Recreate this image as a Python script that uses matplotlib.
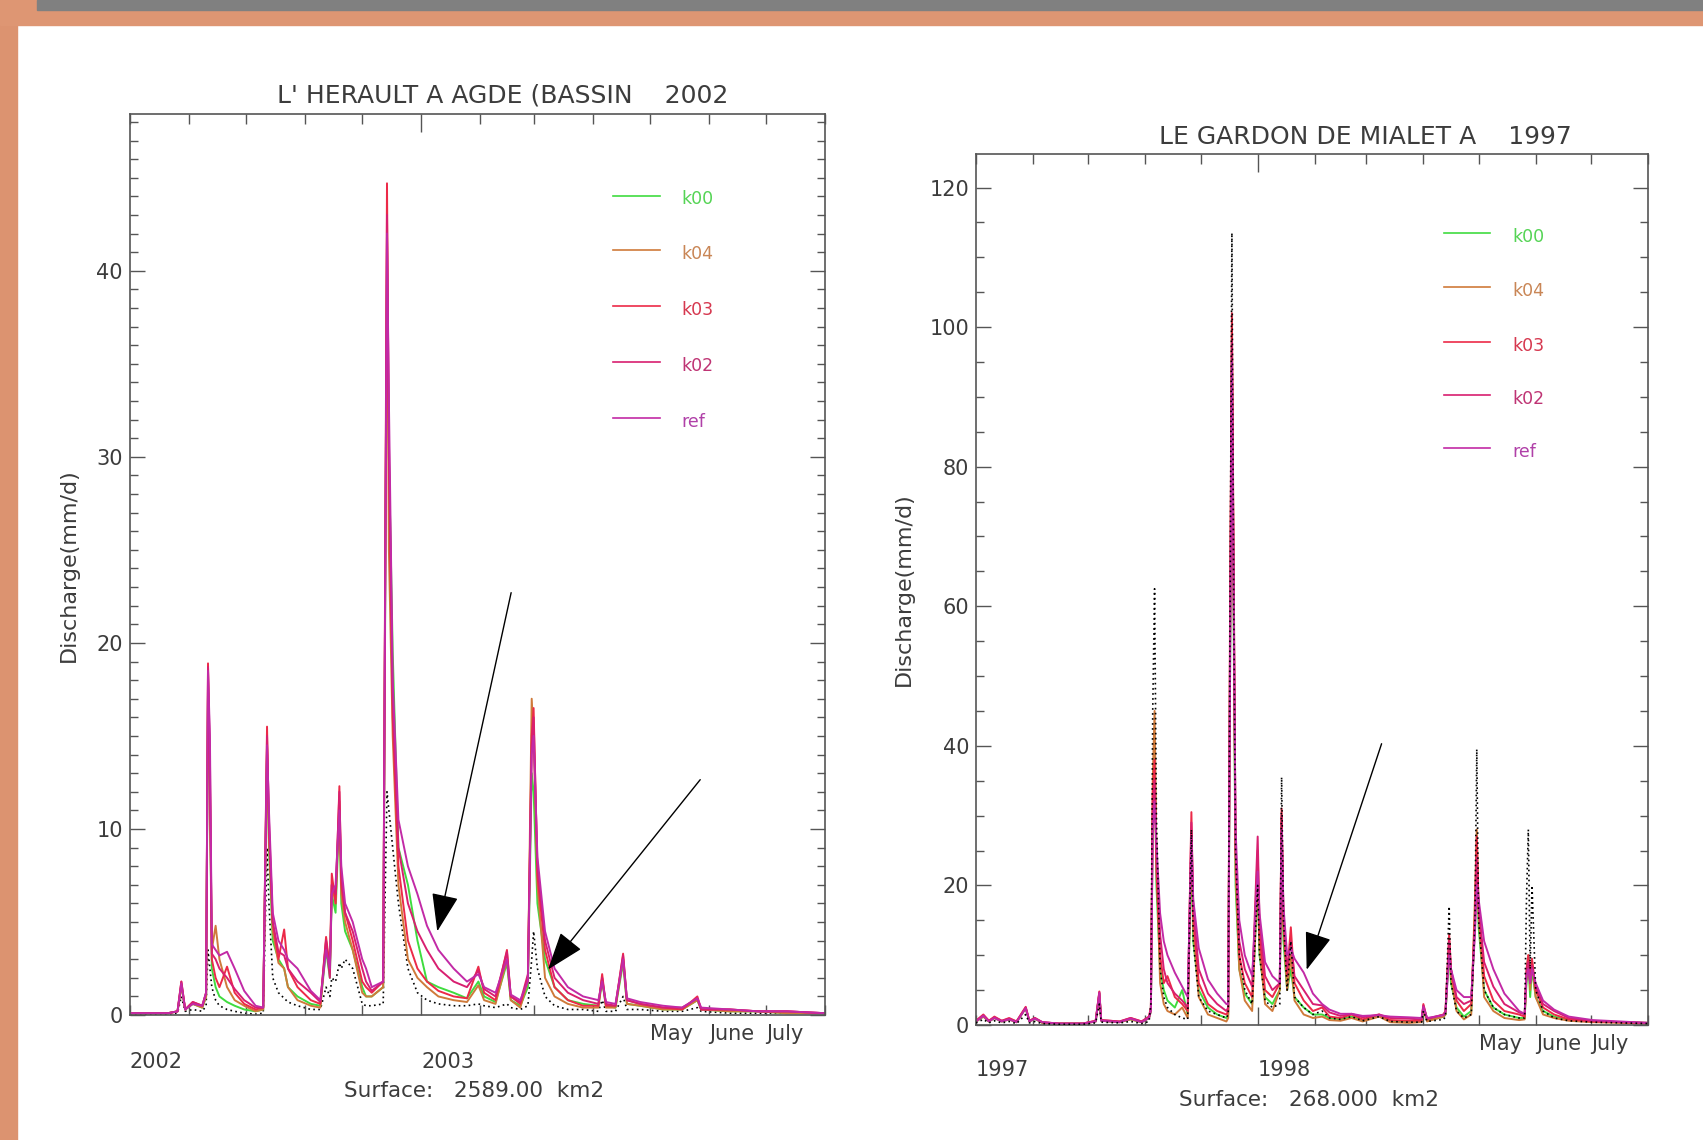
import numpy as np
import matplotlib.pyplot as plt
from matplotlib.patches import Rectangle
from matplotlib.ticker import MultipleLocator
from matplotlib.transforms import blended_transform_factory

# ---------------- data (days counted from 1 August) ----------------
month_starts = [0, 31, 61, 92, 122, 153, 184, 212, 243, 273, 304, 334, 365]

# L'Herault a Agde, 2002-2003
left_days = [0, 10, 20, 25, 27, 29, 33, 38, 40, 41,
             42, 43, 45, 47, 51, 55, 60, 66, 70, 72,
             73, 75, 78, 81, 83, 88, 95, 100, 103, 105,
             106, 108, 110, 111, 113, 117, 122, 124, 127, 133,
             135, 136, 138, 141, 146, 151, 156, 162, 170, 177,
             183, 186, 192, 198, 200, 205, 209, 211, 212, 214,
             218, 223, 230, 238, 246, 248, 250, 255, 259, 261,
             268, 280, 290, 298, 300, 315, 330, 345, 365]
left_obs = [0.05, 0.05, 0.05, 0.1, 1.0, 0.2, 0.3, 0.2, 0.5, 3.5,
            2.5, 1.5, 0.8, 0.5, 0.3, 0.2, 0.1, 0.05, 0.1, 9.0,
            6.0, 2.0, 1.2, 0.9, 0.7, 0.5, 0.3, 0.3, 1.5, 1.0,
            2.0, 1.8, 2.8, 2.5, 3.0, 2.5, 0.6, 0.5, 0.5, 0.6,
            12.0, 11.0, 9.0, 6.0, 2.5, 1.2, 0.8, 0.6, 0.5, 0.5,
            0.6, 0.5, 0.4, 0.6, 0.4, 0.3, 0.5, 3.0, 4.5, 2.5,
            1.0, 0.5, 0.3, 0.3, 0.2, 0.8, 0.2, 0.2, 1.0, 0.3,
            0.3, 0.2, 0.2, 0.4, 0.2, 0.1, 0.1, 0.1, 0.1]
left_k00 = [0.1, 0.1, 0.1, 0.2, 1.6, 0.3, 0.6, 0.4, 1.0, 17.5,
            12.0, 2.5, 1.5, 1.0, 0.7, 0.5, 0.3, 0.2, 0.3, 14.0,
            9.0, 4.0, 3.0, 2.5, 1.5, 1.0, 0.6, 0.5, 3.5, 2.0,
            6.5, 5.5, 11.0, 6.0, 4.5, 3.5, 1.5, 1.0, 1.0, 1.5,
            40.0, 30.0, 19.5, 9.0, 7.0, 4.0, 1.8, 1.5, 1.2, 0.9,
            1.8, 1.0, 0.7, 2.8, 0.8, 0.5, 1.5, 13.0, 12.0, 6.0,
            3.0, 1.5, 0.8, 0.6, 0.5, 1.8, 0.5, 0.4, 2.8, 0.6,
            0.5, 0.3, 0.3, 0.8, 0.3, 0.2, 0.2, 0.1, 0.1]
left_k04 = [0.1, 0.1, 0.1, 0.2, 1.6, 0.3, 0.6, 0.4, 1.0, 18.0,
            12.5, 3.5, 4.8, 3.0, 1.5, 0.8, 0.5, 0.2, 0.3, 14.5,
            9.5, 4.5, 2.8, 2.5, 1.5, 0.8, 0.5, 0.4, 4.0, 2.5,
            7.0, 6.0, 11.5, 6.5, 5.0, 3.5, 1.2, 1.0, 1.0, 1.5,
            42.0, 25.0, 15.0, 7.0, 3.0, 2.0, 1.5, 1.0, 0.8, 0.7,
            1.6, 0.8, 0.6, 3.0, 0.8, 0.4, 1.8, 17.0, 15.0, 7.0,
            2.0, 1.0, 0.6, 0.4, 0.4, 2.0, 0.4, 0.4, 3.0, 0.6,
            0.5, 0.3, 0.3, 0.8, 0.3, 0.2, 0.2, 0.1, 0.1]
left_k03 = [0.1, 0.1, 0.1, 0.2, 1.8, 0.3, 0.7, 0.5, 1.2, 18.9,
            13.0, 3.0, 2.0, 1.5, 2.6, 1.2, 0.6, 0.3, 0.4, 15.5,
            10.0, 5.0, 3.0, 4.6, 2.5, 1.5, 0.8, 0.6, 4.2, 2.5,
            7.6, 6.0, 12.3, 7.0, 5.5, 4.0, 1.8, 1.5, 1.2, 1.8,
            44.7, 30.0, 16.0, 8.0, 4.0, 2.5, 1.8, 1.3, 1.0, 0.9,
            2.6, 1.2, 0.8, 3.5, 1.0, 0.6, 2.0, 15.0, 16.5, 7.5,
            3.5, 1.5, 0.8, 0.5, 0.5, 2.2, 0.5, 0.5, 3.3, 0.8,
            0.6, 0.4, 0.3, 1.0, 0.3, 0.3, 0.2, 0.2, 0.1]
left_k02 = [0.1, 0.1, 0.1, 0.2, 1.8, 0.3, 0.7, 0.5, 1.2, 18.7,
            14.0, 3.3, 3.0, 2.5, 2.0, 1.4, 0.8, 0.4, 0.4, 15.0,
            10.5, 5.0, 3.4, 3.2, 2.5, 1.8, 1.2, 0.7, 4.0, 2.0,
            7.0, 6.5, 12.0, 7.5, 5.5, 4.5, 2.5, 1.8, 1.3, 1.8,
            43.0, 31.0, 17.0, 9.0, 6.0, 4.5, 3.5, 2.5, 1.8, 1.5,
            2.4, 1.4, 1.0, 3.4, 1.0, 0.7, 2.2, 14.5, 16.0, 8.0,
            4.0, 2.0, 1.2, 0.8, 0.6, 2.0, 0.6, 0.5, 3.2, 0.8,
            0.6, 0.4, 0.4, 0.9, 0.3, 0.3, 0.2, 0.2, 0.1]
left_ref = [0.1, 0.1, 0.1, 0.2, 1.7, 0.3, 0.6, 0.5, 1.2, 18.5,
            15.0, 3.8, 3.5, 3.2, 3.4, 2.5, 1.3, 0.5, 0.4, 14.5,
            11.0, 5.5, 4.0, 3.5, 3.0, 2.5, 1.3, 0.8, 3.5, 2.5,
            6.5, 7.0, 11.0, 8.0, 6.0, 5.0, 3.0, 2.5, 1.5, 1.8,
            42.0, 33.0, 18.0, 10.5, 8.0, 6.5, 4.8, 3.5, 2.5, 1.8,
            2.2, 1.5, 1.2, 3.0, 1.1, 0.8, 1.8, 14.0, 15.0, 8.5,
            4.5, 2.5, 1.5, 1.0, 0.8, 1.8, 0.7, 0.6, 3.0, 0.9,
            0.7, 0.5, 0.4, 0.9, 0.4, 0.3, 0.2, 0.2, 0.1]

# Le Gardon de Mialet, 1997-1998
right_days = [0, 4, 7, 10, 14, 18, 22, 27, 29, 32,
              36, 45, 58, 65, 67, 68, 78, 84, 90, 94,
              95, 96, 97, 98, 100, 102, 104, 108, 112, 115,
              117, 118, 121, 126, 131, 136, 137, 138, 139, 140,
              141, 143, 146, 150, 153, 154, 157, 161, 165, 166,
              167, 169, 171, 173, 178, 183, 188, 192, 198, 204,
              210, 219, 225, 235, 242, 243, 245, 254, 255, 257,
              258, 261, 265, 269, 271, 272, 273, 276, 281, 287,
              295, 298, 299, 300, 301, 302, 304, 308, 314, 322,
              335, 350, 365]
right_obs = [0.3, 0.8, 0.3, 0.6, 0.3, 0.5, 0.2, 1.5, 0.3, 0.5,
             0.2, 0.1, 0.1, 0.3, 3.0, 0.4, 0.3, 0.5, 0.2, 0.5,
             3.0, 45.0, 62.5, 30.0, 8.0, 4.0, 2.5, 1.5, 1.0, 0.8,
             28.0, 12.0, 4.0, 2.0, 1.5, 1.0, 1.5, 60.0, 113.5, 60.0,
             25.0, 10.0, 5.0, 3.0, 20.0, 10.0, 3.5, 2.5, 3.0, 35.5,
             15.0, 5.0, 12.0, 4.0, 2.5, 1.5, 2.0, 1.0, 0.8, 1.2,
             0.6, 1.2, 0.5, 0.4, 0.4, 2.0, 0.5, 0.8, 1.2, 17.0,
             6.0, 2.0, 1.0, 1.5, 15.0, 39.5, 15.0, 5.0, 2.5, 1.5,
             1.0, 1.0, 18.0, 28.0, 8.0, 20.0, 5.0, 2.0, 1.0, 0.6,
             0.4, 0.3, 0.2]
right_k00 = [0.5, 1.2, 0.5, 1.0, 0.5, 0.8, 0.4, 2.4, 0.5, 0.9,
             0.3, 0.2, 0.2, 0.5, 4.5, 0.6, 0.4, 0.8, 0.4, 1.0,
             2.0, 30.0, 40.0, 20.0, 8.0, 5.0, 3.5, 2.5, 5.0, 1.5,
             25.0, 12.0, 5.0, 2.5, 1.5, 1.0, 1.5, 50.0, 95.0, 55.0,
             20.0, 8.0, 4.5, 3.0, 20.0, 10.0, 4.0, 3.0, 5.0, 26.0,
             12.0, 5.0, 8.0, 4.0, 2.5, 1.5, 1.5, 1.0, 0.8, 1.2,
             0.7, 1.4, 0.6, 0.5, 0.5, 2.5, 0.6, 1.2, 1.5, 11.0,
             6.0, 2.5, 1.2, 2.0, 15.0, 25.0, 14.0, 5.0, 2.5, 1.5,
             1.0, 1.0, 6.0, 9.0, 4.0, 8.0, 4.0, 2.0, 1.2, 0.7,
             0.5, 0.4, 0.3]
right_k04 = [0.5, 1.2, 0.5, 1.0, 0.5, 0.8, 0.4, 2.4, 0.5, 0.9,
             0.3, 0.2, 0.2, 0.5, 4.5, 0.6, 0.4, 0.8, 0.4, 1.0,
             2.0, 35.0, 45.0, 25.0, 6.0, 3.0, 2.0, 1.5, 2.5, 1.0,
             27.0, 14.0, 4.0, 1.5, 1.0, 0.5, 1.0, 55.0, 100.0, 60.0,
             22.0, 8.0, 3.5, 2.0, 22.0, 11.0, 3.0, 2.0, 5.0, 30.0,
             14.0, 5.0, 10.0, 3.5, 1.5, 1.0, 1.2, 0.7, 0.6, 1.0,
             0.5, 1.2, 0.4, 0.3, 0.4, 2.5, 0.5, 1.2, 1.5, 12.0,
             7.0, 2.0, 0.8, 1.5, 18.0, 28.0, 16.0, 4.0, 2.0, 1.0,
             0.7, 0.8, 7.0, 10.0, 5.0, 9.0, 4.0, 1.5, 1.0, 0.6,
             0.4, 0.3, 0.2]
right_k03 = [0.6, 1.5, 0.6, 1.2, 0.6, 1.0, 0.5, 2.6, 0.6, 1.0,
             0.4, 0.2, 0.2, 0.6, 4.8, 0.7, 0.5, 1.0, 0.5, 1.2,
             2.5, 33.0, 38.0, 22.0, 10.0, 6.0, 7.0, 4.0, 3.0, 2.0,
             30.5, 16.0, 6.0, 3.0, 2.0, 1.5, 2.0, 60.0, 102.0, 65.0,
             25.0, 10.0, 6.0, 4.0, 25.0, 13.0, 5.0, 4.0, 6.0, 31.0,
             15.0, 7.0, 14.0, 6.0, 3.5, 2.0, 2.5, 1.2, 1.0, 1.5,
             0.8, 1.5, 0.7, 0.6, 0.6, 3.0, 0.8, 1.5, 2.0, 13.0,
             8.0, 3.5, 2.0, 3.0, 16.0, 27.0, 17.0, 7.0, 3.5, 2.0,
             1.5, 1.2, 8.0, 10.0, 6.0, 9.5, 5.0, 2.5, 1.5, 0.8,
             0.5, 0.4, 0.3]
right_k02 = [0.6, 1.4, 0.6, 1.1, 0.6, 0.9, 0.5, 2.5, 0.6, 1.0,
             0.4, 0.2, 0.2, 0.6, 4.7, 0.7, 0.5, 1.0, 0.5, 1.2,
             2.5, 30.0, 35.0, 25.0, 13.0, 8.0, 6.0, 4.5, 3.5, 2.5,
             29.0, 17.0, 8.0, 4.5, 3.0, 2.0, 2.5, 55.0, 98.0, 62.0,
             25.0, 12.0, 8.0, 5.5, 27.0, 15.0, 7.0, 5.0, 6.0, 30.0,
             16.0, 8.0, 12.0, 7.0, 5.0, 3.0, 2.8, 1.8, 1.3, 1.6,
             1.1, 1.5, 1.0, 0.9, 0.8, 2.8, 0.9, 1.5, 2.0, 12.0,
             8.0, 4.0, 3.0, 3.5, 14.0, 24.0, 17.0, 9.0, 5.5, 3.0,
             1.8, 1.5, 7.5, 9.0, 6.0, 8.5, 5.5, 3.0, 2.0, 1.0,
             0.6, 0.4, 0.3]
right_ref = [0.5, 1.3, 0.5, 1.0, 0.5, 0.8, 0.4, 2.4, 0.5, 0.9,
             0.4, 0.2, 0.2, 0.5, 4.6, 0.6, 0.4, 0.9, 0.4, 1.0,
             2.0, 28.0, 32.0, 26.0, 16.0, 12.0, 10.0, 7.5, 5.5, 4.0,
             27.0, 18.0, 11.0, 6.5, 4.5, 3.0, 3.0, 50.0, 95.0, 60.0,
             28.0, 15.0, 10.0, 7.0, 22.0, 16.0, 9.0, 7.0, 6.0, 28.0,
             17.0, 10.0, 11.0, 9.5, 7.5, 4.5, 3.0, 2.2, 1.6, 1.6,
             1.3, 1.4, 1.2, 1.1, 1.0, 2.6, 1.0, 1.4, 1.8, 10.0,
             8.0, 5.0, 4.0, 4.0, 13.0, 20.0, 18.0, 12.0, 8.0, 4.5,
             2.0, 1.6, 7.0, 8.0, 6.0, 8.0, 6.0, 3.5, 2.2, 1.2,
             0.7, 0.5, 0.3]

names = ['k00', 'k04', 'k03', 'k02', 'ref']
line_colors = ['#3fdc3f', '#cf7a3a', '#ec2a48', '#d81f70', '#c22aa6']
text_colors = ['#55d455', '#c98656', '#d6384f', '#bf3474', '#b040a8']

txt = '#3c3c3c'
plt.rcParams['font.family'] = 'DejaVu Sans'

fig = plt.figure(figsize=(17.03, 11.40), dpi=100)

# slide border
fig.add_artist(Rectangle((0, 0), 17 / 1703, 1, transform=fig.transFigure,
                         color='#dc9370', zorder=0))
fig.add_artist(Rectangle((0, 1 - 25 / 1140), 1, 25 / 1140, transform=fig.transFigure,
                         color='#de9673', zorder=0))
fig.add_artist(Rectangle((37 / 1703, 1 - 10 / 1140), 1, 10 / 1140, transform=fig.transFigure,
                         color='#808080', zorder=1))

axL = fig.add_axes([0.0763, 0.1096, 0.4081, 0.7900])
axR = fig.add_axes([0.5731, 0.1009, 0.3946, 0.7640])


def style(ax, ymax, major, minor):
    ax.set_xlim(0, 365)
    ax.set_ylim(0, ymax)
    ax.set_xticks([153])
    ax.set_xticks(month_starts, minor=True)
    ax.yaxis.set_major_locator(MultipleLocator(major))
    ax.yaxis.set_minor_locator(MultipleLocator(minor))
    ax.tick_params(which='both', direction='in', top=True, right=True,
                   color='#555555', width=1.0)
    ax.tick_params(axis='x', which='major', length=13, labelbottom=False)
    ax.tick_params(axis='x', which='minor', length=7)
    ax.tick_params(axis='y', which='major', length=11, labelsize=15,
                   labelcolor=txt, pad=5)
    ax.tick_params(axis='y', which='minor', length=5.5)
    for s in ax.spines.values():
        s.set_color('#555555')
        s.set_linewidth(1.2)


def draw(ax, days, obs, series, obs_z):
    ax.plot(days, obs, color='black', lw=1.2, ls=(0, (1, 2)), zorder=obs_z)
    for vals, c in zip(series, line_colors):
        ax.plot(days, vals, color=c, lw=1.4, zorder=2)


style(axL, 48.4, 10, 1)
style(axR, 124.8, 20, 5)
draw(axL, left_days, left_obs, [left_k00, left_k04, left_k03, left_k02, left_ref], 1)
draw(axR, right_days, right_obs, [right_k00, right_k04, right_k03, right_k02, right_ref], 3)

# legends
for ax, x0, x1, xt, ys in [(axL, 0.695, 0.763, 0.794, [0.9096, 0.849, 0.787, 0.725, 0.663]),
                           (axR, 0.697, 0.765, 0.798, [0.909, 0.847, 0.784, 0.723, 0.662])]:
    for n, lc, tc, y in zip(names, line_colors, text_colors, ys):
        ax.plot([x0, x1], [y, y], color=lc, lw=1.2, transform=ax.transAxes)
        ax.text(xt, y - 0.004, n, color=tc, fontsize=12.5, va='center', ha='left',
                transform=ax.transAxes)

# titles
axL.text(0.536, 1.0205, "L' HERAULT A AGDE (BASSIN    2002", transform=axL.transAxes,
         ha='center', va='center', fontsize=18, color=txt)
axR.text(0.579, 1.02, "LE GARDON DE MIALET A    1997", transform=axR.transAxes,
         ha='center', va='center', fontsize=18, color=txt)

# y labels
fig.text(0.0402, 0.504, 'Discharge(mm/d)', rotation=90, ha='center', va='center',
         fontsize=16, color=txt)
fig.text(0.5306, 0.483, 'Discharge(mm/d)', rotation=90, ha='center', va='center',
         fontsize=16, color=txt)

# date labels under the axes
for ax, ym, yy, ys, years, surf in [(axL, -0.0205, -0.052, -0.084, ['2002', '2003'], '2589.00'),
                                    (axR, -0.0224, -0.052, -0.086, ['1997', '1998'], '268.000')]:
    tr = blended_transform_factory(ax.transData, ax.transAxes)
    for d, m in zip([273, 304, 334], ['May', 'June', 'July']):
        ax.text(d, ym, m, transform=tr, ha='left', va='center', fontsize=15, color=txt)
    ax.text(0, yy, years[0], transform=tr, ha='left', va='center', fontsize=15, color=txt)
    ax.text(153, yy, years[1], transform=tr, ha='left', va='center', fontsize=15, color=txt)
    ax.text(0.495, ys, 'Surface:   ' + surf + '  km2', transform=ax.transAxes,
            ha='center', va='center', fontsize=15.5, color=txt)

# arrows
arrow = dict(arrowstyle='-|>,head_length=2.4,head_width=0.85', color='black',
             lw=1.0, shrinkA=0, shrinkB=0)
axL.annotate('', xy=(161.4, 4.5), xytext=(200.2, 22.7), arrowprops=arrow)
axL.annotate('', xy=(219.6, 2.45), xytext=(299.5, 12.65), arrowprops=arrow)
axR.annotate('', xy=(179.6, 7.9), xytext=(220.3, 40.3), arrowprops=arrow)

fig.savefig('out.png', dpi=100, facecolor='white')
